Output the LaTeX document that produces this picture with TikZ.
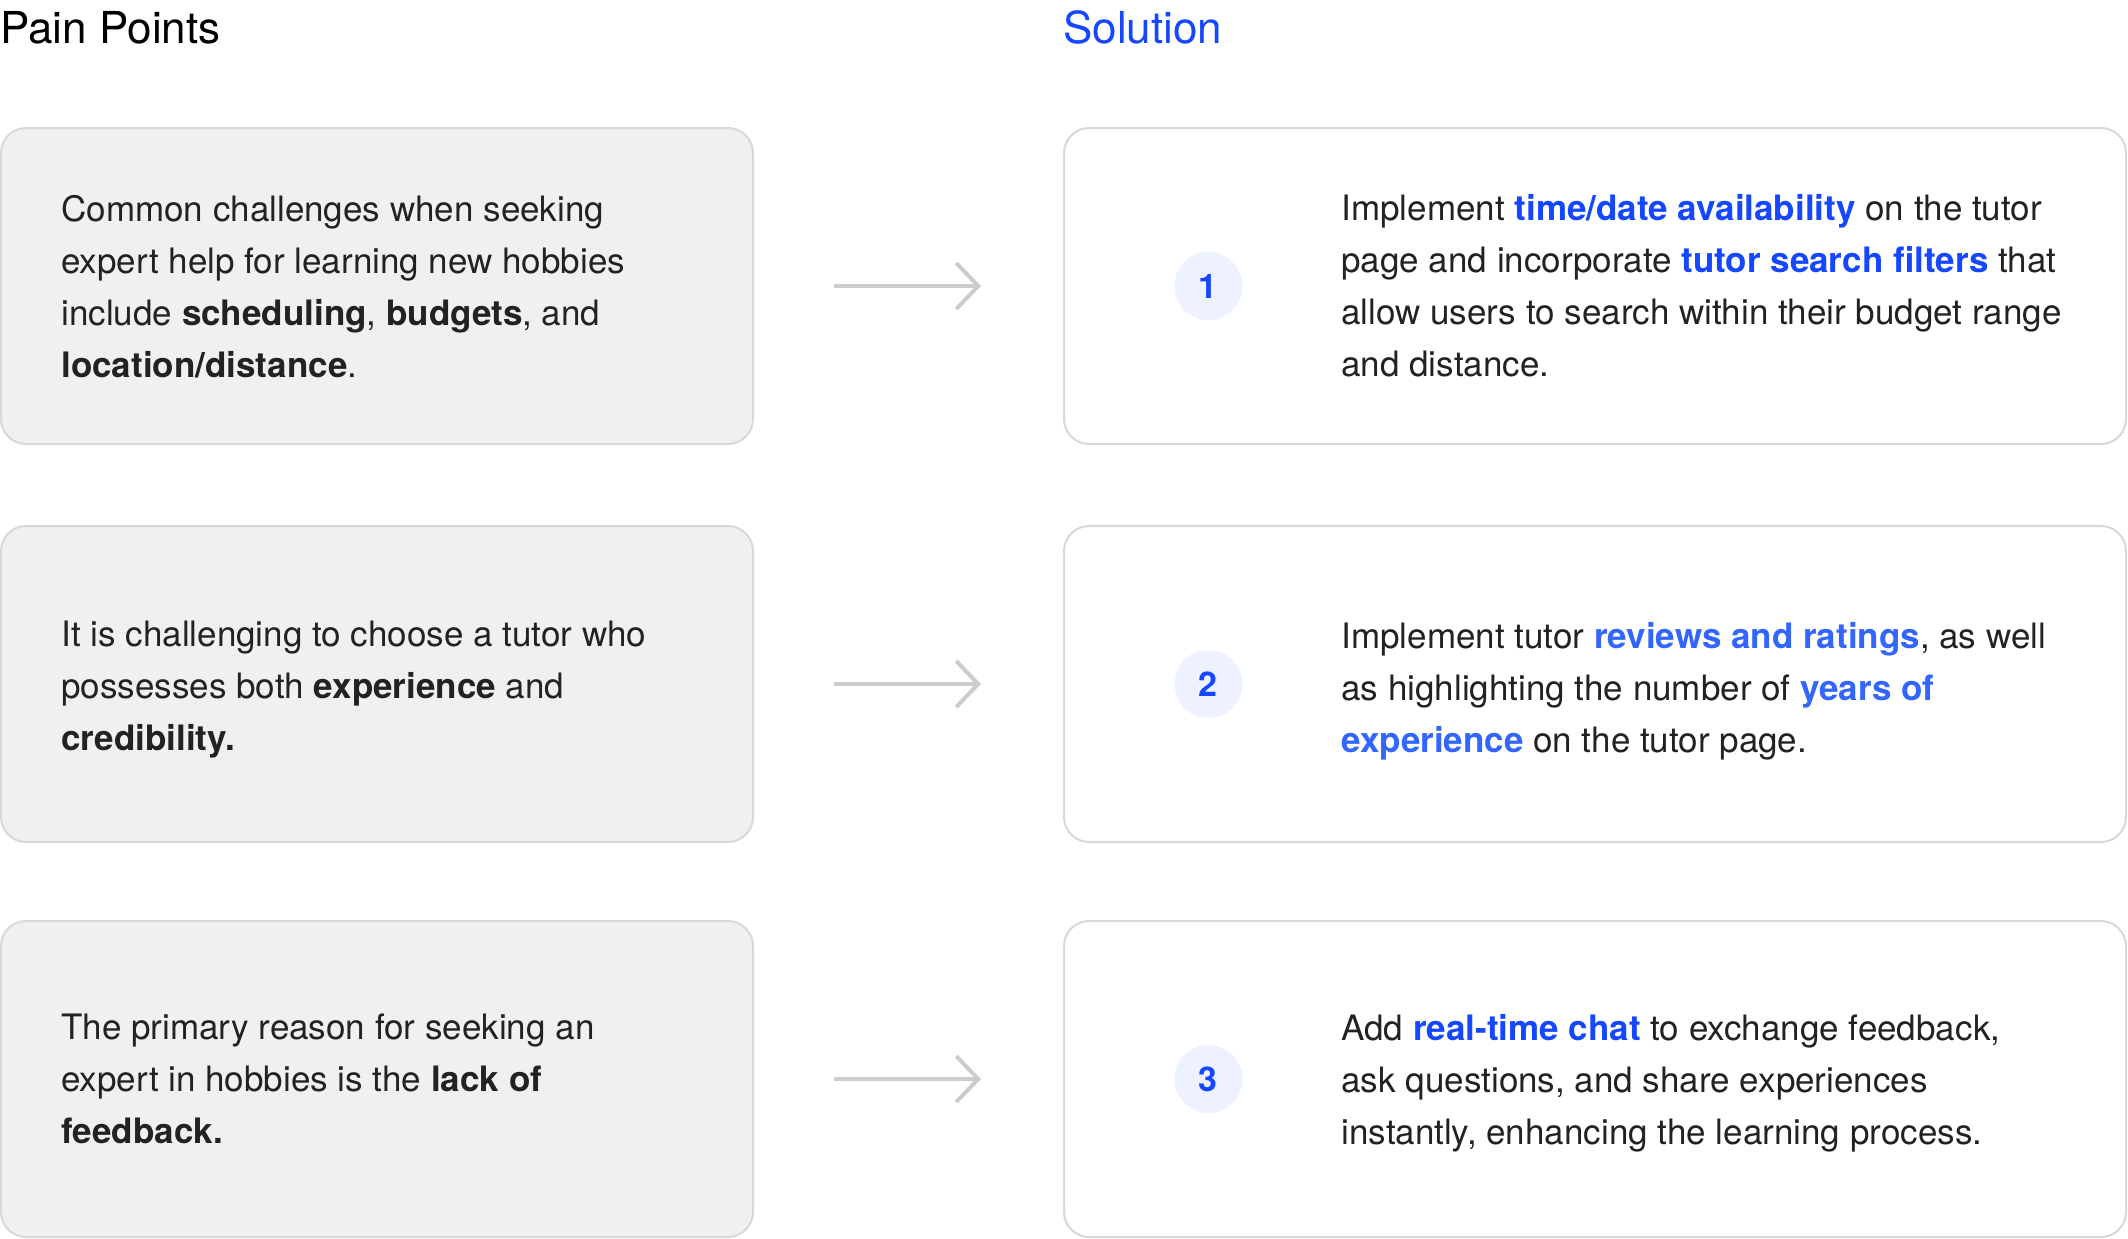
\documentclass[tikz,border=0pt]{standalone}
\usepackage{fontspec}
\setmainfont{TeX Gyre Heros}
\usetikzlibrary{positioning, arrows.meta}

\definecolor{ink}{HTML}{222222}
\definecolor{accent}{HTML}{1447FF}
\definecolor{accentsoft}{HTML}{3366FF}
\definecolor{painfill}{HTML}{F0F0F0}
\definecolor{boxline}{HTML}{D8D8D8}
\definecolor{badgefill}{HTML}{EEF1FF}
\definecolor{arrowgray}{HTML}{CCCCCC}

\newcommand{\hl}[1]{\textbf{\color{accent}#1}}
\newcommand{\hlsoft}[1]{\textbf{\color{accentsoft}#1}}

\tikzset{
    painbox/.style={draw=boxline, fill=painfill, line width=1pt, rounded corners=12.5pt,
        minimum width=376pt, minimum height=158pt, inner sep=0pt},
    solbox/.style={draw=boxline, fill=white, line width=1pt, rounded corners=12.5pt,
        minimum width=531pt, minimum height=158pt, inner sep=0pt},
    bodytext/.style={anchor=west, align=left, text=ink, inner sep=0pt,
        font=\fontsize{17.5}{26}\selectfont},
    badge/.style={circle, fill=badgefill, minimum size=34pt, inner sep=0pt, text=accent,
        font=\fontsize{17}{20}\selectfont\bfseries},
    heading/.style={anchor=base west, inner sep=0pt, font=\fontsize{22}{26}\selectfont},
    flow/.style={arrowgray, line width=2pt, shorten <=40pt, shorten >=41pt,
        -{Straight Barb[length=11pt, width=23pt]}},
}

\begin{document}
\begin{tikzpicture}[x=0.5pt, y=-0.5pt]
    \useasboundingbox (0,0) rectangle (2128,1238);

    \node[heading] (hpain) at (0,43) {Pain Points};
    \node[heading, text=accent] (hsol) at (1063,43) {Solution};

    % pain points
    \node[painbox] (p1) at (377,286) {};
    \node[painbox] (p2) at (377,684) {};
    \node[painbox] (p3) at (377,1079) {};

    \node[bodytext, right=30.5pt of p1.west, yshift=-0.5pt] (pt1) {Common challenges when seeking\\
        expert help for learning new hobbies\\
        include \textbf{scheduling}, \textbf{budgets}, and\\
        \textbf{location/distance}.};
    \node[bodytext, right=30.5pt of p2.west, yshift=-3pt] (pt2) {It is challenging to choose a tutor who\\
        possesses both \textbf{experience} and\\
        \textbf{credibility.}};
    \node[bodytext, right=30.5pt of p3.west] (pt3) {The primary reason for seeking an\\
        expert in hobbies is the \textbf{lack of}\\
        \textbf{feedback.}};

    % solutions
    \node[solbox] (s1) at (1595,286) {};
    \node[solbox] (s2) at (1595,684) {};
    \node[solbox] (s3) at (1595,1079) {};

    \node[badge, right=55.5pt of s1.west] (b1) {1};
    \node[badge, right=55.5pt of s2.west] (b2) {2};
    \node[badge, right=55.5pt of s3.west] (b3) {3};

    \node[bodytext, right=139pt of s1.west] (st1) {Implement \hl{time/date availability} on the tutor\\
        page and incorporate \hl{tutor search filters} that\\
        allow users to search within their budget range\\
        and distance.};
    \node[bodytext, right=139pt of s2.west, yshift=-3.5pt] (st2) {Implement tutor \hlsoft{reviews and ratings}, as well\\
        as highlighting the number of \hlsoft{years of}\\
        \hlsoft{experience} on the tutor page.};
    \node[bodytext, right=139pt of s3.west, yshift=-2pt] (st3) {Add \hl{real-time chat} to exchange feedback,\\
        ask questions, and share experiences\\
        instantly, enhancing the learning process.};

    \draw[flow] (p1) -- (s1);
    \draw[flow] (p2) -- (s2);
    \draw[flow] (p3) -- (s3);
\end{tikzpicture}
\end{document}
